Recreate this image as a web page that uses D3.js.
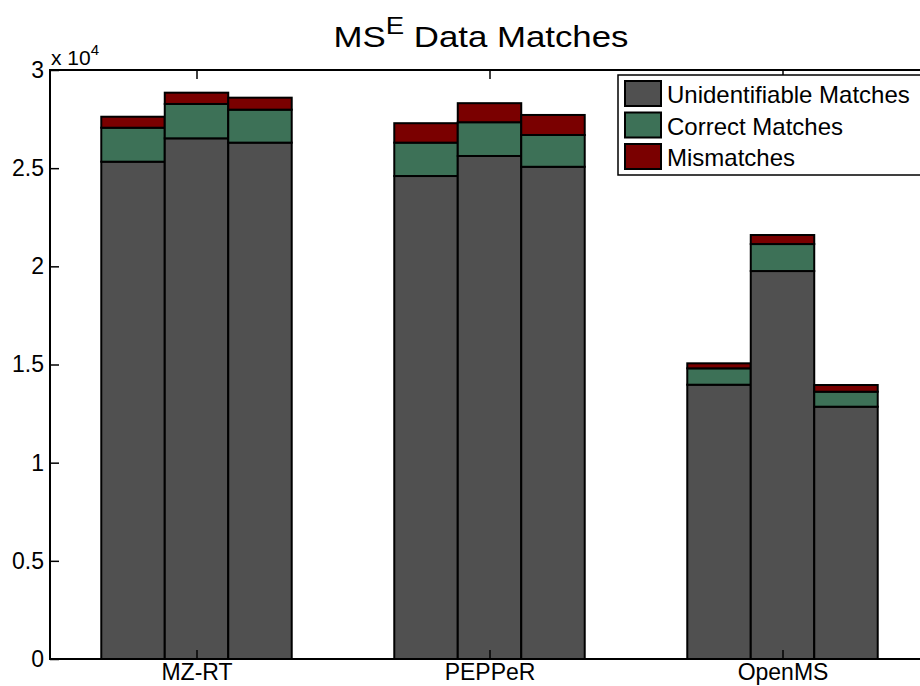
<!DOCTYPE html>
<html>
<head>
<meta charset="utf-8">
<script src="https://cdn.jsdelivr.net/npm/d3@7"></script>
<style>
  html, body { margin: 0; padding: 0; background: #fff; overflow: hidden; }
  svg { display: block; font-family: "Liberation Sans", Arial, Helvetica, sans-serif; }
</style>
</head>
<body>
<svg id="chart" width="920" height="686"></svg>
<script>
// Tools compared, and the three runs per tool
const tools = ["MZ-RT", "PEPPeR", "OpenMS"];
const runs = [0, 1, 2];

// Stack layers, bottom to top
const seriesNames = ["Unidentifiable Matches", "Correct Matches", "Mismatches"];
const seriesColors = ["#505050", "#3d7157", "#7a0000"];

// Counts per tool (rows) and run (columns)
const unidentifiable = [
  [25330, 26520, 26300],
  [24600, 25620, 25070],
  [13970, 19760, 12850]
];
const correct = [
  [1730, 1750, 1680],
  [1700, 1720, 1620],
  [835, 1375, 765]
];
const mismatches = [
  [560, 575, 610],
  [990, 970, 1020],
  [255, 460, 340]
];

const yTicks = [0, 5000, 10000, 15000, 20000, 25000, 30000];
const yTickLabels = ["0", "0.5", "1", "1.5", "2", "2.5", "3"];

const svg = d3.select("#chart");
const plotL = 50, plotR = 929, plotT = 70, plotB = 659;
const FONT = "Liberation Sans, Arial, sans-serif";

const x = d3.scaleLinear().domain([0.5, 3.5]).range([plotL, plotR]);
const y = d3.scaleLinear().domain([0, 30000]).range([plotB, plotT]);
const inner = d3.scaleBand().domain(runs).range([-0.325, 0.325]);

function groupPos(i) { return i + 1; }

// Build stacked records
const layers = [unidentifiable, correct, mismatches];
const bars = [];
tools.forEach((t, i) => {
  runs.forEach(r => {
    let base = 0;
    layers.forEach((layer, k) => {
      const v = layer[i][r];
      bars.push({ tool: i, run: r, k, y0: base, y1: base + v });
      base += v;
    });
  });
});

svg.append("g").selectAll("rect.bar")
  .data(bars)
  .join("rect")
  .attr("class", "bar")
  .attr("x", d => x(groupPos(d.tool) + inner(d.run)))
  .attr("width", d => x(groupPos(d.tool) + inner(d.run) + inner.bandwidth()) - x(groupPos(d.tool) + inner(d.run)))
  .attr("y", d => y(d.y1))
  .attr("height", d => y(d.y0) - y(d.y1))
  .attr("fill", d => seriesColors[d.k])
  .attr("stroke", "#000")
  .attr("stroke-width", 2);

// Axes frame
const frame = svg.append("g").attr("stroke", "#000").attr("stroke-width", 2).attr("fill", "none");
frame.append("line").attr("x1", plotL).attr("x2", plotR).attr("y1", plotT).attr("y2", plotT);
frame.append("line").attr("x1", plotL).attr("x2", plotR).attr("y1", plotB).attr("y2", plotB);
frame.append("line").attr("x1", plotL).attr("x2", plotL).attr("y1", plotT - 1).attr("y2", plotB + 1);

// Left axis: inward ticks
const yAxis = d3.axisLeft(y).tickValues(yTicks).tickSizeInner(-9).tickSizeOuter(0)
  .tickFormat((d, i) => yTickLabels[i]).tickPadding(6);
const ya = svg.append("g").attr("transform", `translate(${plotL},0)`).call(yAxis);
ya.select(".domain").remove();
ya.selectAll(".tick line").attr("stroke", "#000").attr("stroke-width", 1.5);
ya.selectAll(".tick text").attr("font-size", 23).attr("fill", "#000").attr("font-family", FONT);

// Bottom axis: category labels
const xAxis = d3.axisBottom(x).tickValues([1, 2, 3]).tickSizeInner(-9).tickSizeOuter(0)
  .tickFormat((d, i) => tools[i]).tickPadding(5);
const xa = svg.append("g").attr("transform", `translate(0,${plotB})`).call(xAxis);
xa.select(".domain").remove();
xa.selectAll(".tick line").attr("stroke", "#000").attr("stroke-width", 1.5);
xa.selectAll(".tick text").attr("font-size", 23).attr("fill", "#000").attr("font-family", FONT);

// Top ticks at the category positions
const xt = svg.append("g").attr("transform", `translate(0,${plotT})`)
  .call(d3.axisTop(x).tickValues([1, 2, 3]).tickSizeInner(-9).tickSizeOuter(0).tickFormat(""));
xt.select(".domain").remove();
xt.selectAll(".tick line").attr("stroke", "#000").attr("stroke-width", 1.5);

// Exponent label
const ex = svg.append("text").attr("x", 51).attr("y", 65).attr("font-size", 21).attr("fill", "#000");
ex.append("tspan").text("x 10");
ex.append("tspan").attr("dy", -10).attr("font-size", 15).text("4");

// Title (slightly widened face)
const title = svg.append("text").attr("text-anchor", "middle")
  .attr("transform", "translate(481,47) scale(1.2,1)")
  .attr("font-size", 29).attr("fill", "#000");
title.append("tspan").text("MS");
title.append("tspan").attr("dy", -13).attr("font-size", 23).text("E");
title.append("tspan").attr("dy", 13).text(" Data Matches");

// Legend
const lg = svg.append("g").attr("transform", "translate(618,75)");
lg.append("rect").attr("x", 0).attr("y", 0).attr("width", 312).attr("height", 100)
  .attr("fill", "#fff").attr("stroke", "#000").attr("stroke-width", 1.5);
seriesNames.forEach((name, k) => {
  const row = lg.append("g").attr("transform", `translate(7,${6 + k * 31.5})`);
  row.append("rect").attr("width", 36).attr("height", 25)
    .attr("fill", seriesColors[k]).attr("stroke", "#000").attr("stroke-width", 2);
  row.append("text").attr("x", 42).attr("y", 22).attr("font-size", 24).attr("fill", "#000").text(name);
});
</script>
</body>
</html>
